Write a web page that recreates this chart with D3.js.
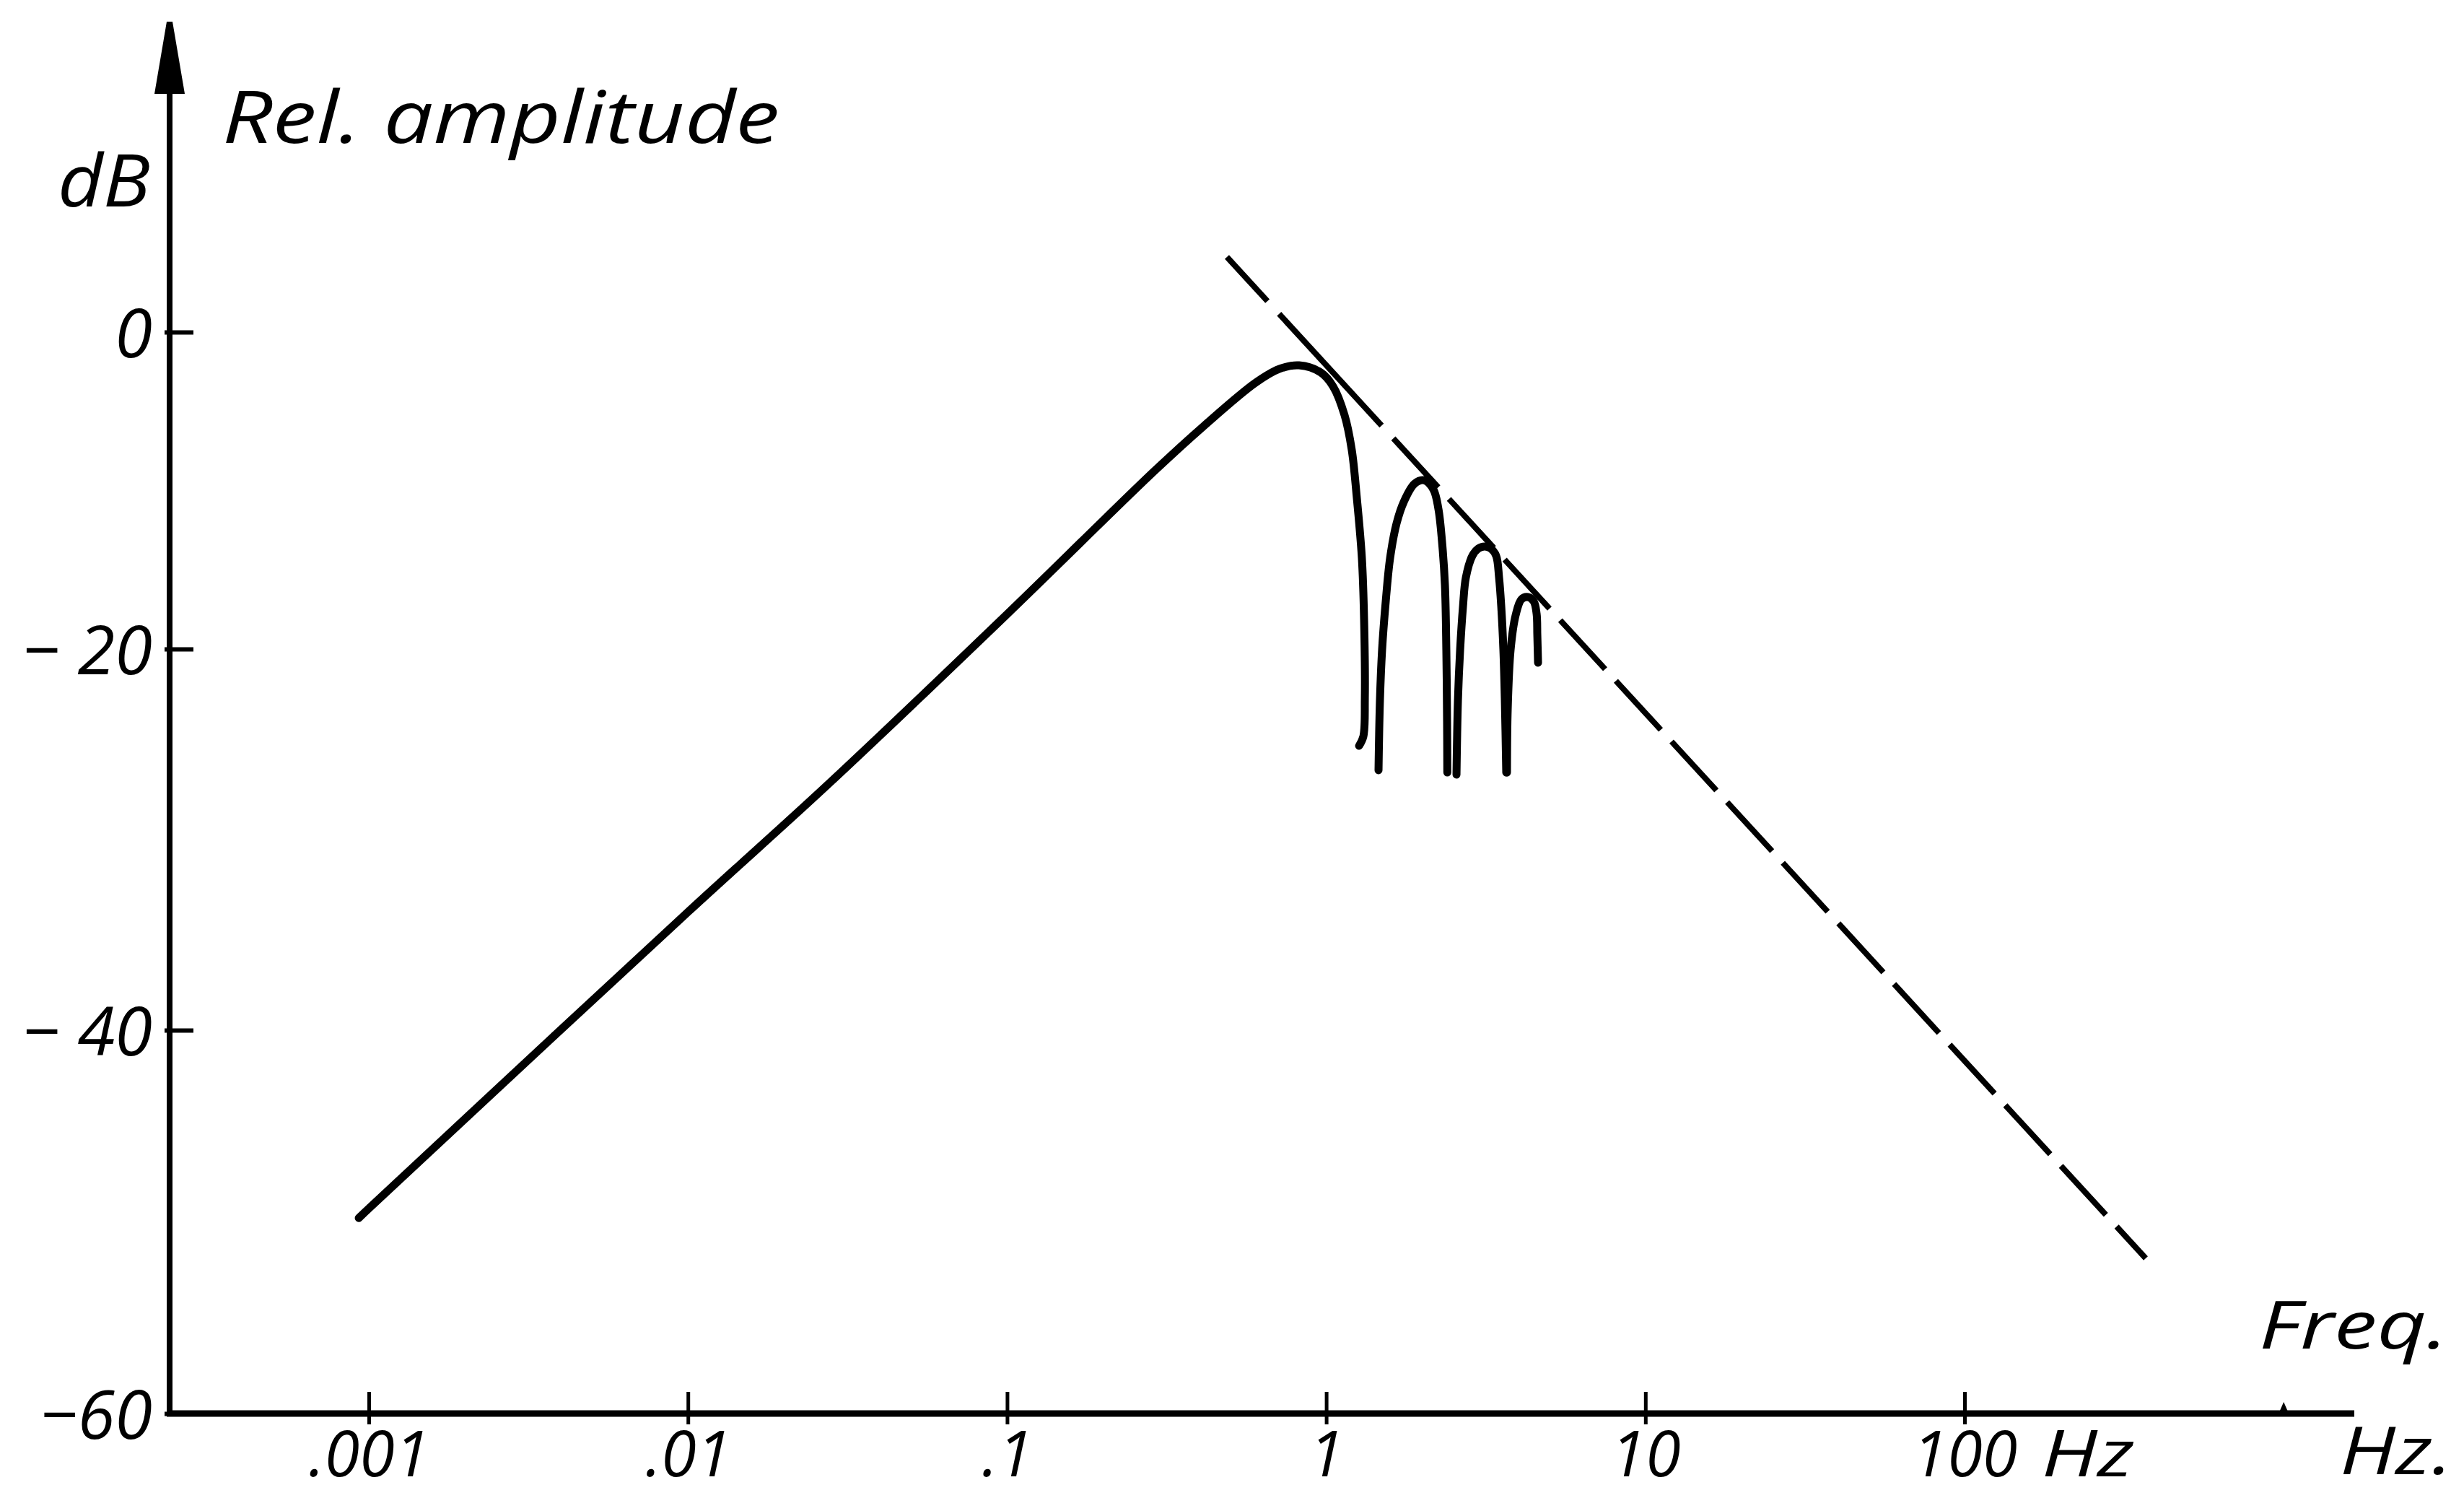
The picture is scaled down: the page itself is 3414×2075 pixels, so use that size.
<!DOCTYPE html>
<html>
<head>
<meta charset="utf-8">
<script src="https://cdn.jsdelivr.net/npm/d3@7"></script>
<style>
  html, body { margin: 0; padding: 0; background: #fff; }
  svg { display: block; }
  text { font-family: "Open Sans", "DejaVu Sans", sans-serif; font-style: italic; fill: #000; }
</style>
</head>
<body>
<svg id="chart" width="3414" height="2075"></svg>
<script>
// Frequency decades marked on the axis (Hz) and their labels
const xTicks = [0.001, 0.01, 0.1, 1, 10, 100];
const xTickLabels = [".001", ".01", ".1", "1", "10", "100"];
const xMinorTicks = [1000];
// Level ticks (dB) and their labels
const yTicks = [0, -20, -40, -60];
const yTickLabels = ["0", "\u2212 20", "\u2212 40", "\u221260"];

// Main response: rising flank, broad maximum just below 1 Hz, fall into the first null
const mainHz = [0.00093, 0.001, 0.01, 0.0279, 0.1, 0.290, 0.411, 0.601, 0.714, 0.822,
                0.961, 1.050, 1.141, 1.202, 1.247, 1.293, 1.314, 1.321, 1.307, 1.267];
const mainDb = [-49.8, -49.3, -33.8, -27.0, -17.8, -8.75, -5.97, -3.19, -2.32, -2.10,
                -2.55, -3.42, -5.24, -7.43, -10.48, -14.26, -18.22, -22.58, -24.58, -25.08];

// Side lobes between successive nulls
const lobe2Hz = [1.458, 1.473, 1.496, 1.536, 1.585, 1.661, 1.750, 1.891, 2.024, 2.166,
                 2.246, 2.305, 2.354, 2.378, 2.391, 2.395];
const lobe2Db = [-26.36, -22.69, -20.04, -16.99, -14.26, -12.07, -10.71, -9.57, -9.35, -9.93,
                 -11.16, -13.21, -15.95, -20.04, -23.83, -26.48];

const lobe3Hz = [2.559, 2.586, 2.627, 2.682, 2.738, 2.869, 2.991, 3.135, 3.285, 3.407,
                 3.479, 3.534, 3.589, 3.626, 3.664];
const lobe3Db = [-26.59, -22.69, -20.04, -17.31, -15.49, -14.12, -13.67, -13.53, -13.67, -14.12,
                 -15.49, -17.31, -20.04, -22.58, -26.48];

const lobe4Hz = [3.684, 3.703, 3.781, 3.922, 4.089, 4.284, 4.467, 4.561, 4.585, 4.609];
const lobe4Db = [-26.48, -23.18, -20.04, -17.86, -16.86, -16.72, -16.99, -17.77, -19.13, -20.72];

// Straight envelope through the lobe maxima
const asymHz = [0.4884, 369.5];
const asymDb = [4.74, -51.9];

// ---------------------------------------------------------------------------
const svg = d3.select("#chart");
const W = 3414, H = 2075;

const axisX = 235;     // position of the level axis
const axisY = 1958;    // position of the frequency axis
const axisTop = 30;    // arrow tip
const axisRight = 3262;

const x = d3.scaleLog().domain([0.001, 100]).range([511, 2722]);
// hand-drawn level scale: the top 20 dB step is shorter than the others
const y = d3.scaleLinear().domain([0, -20, -40, -60]).range([460, 899, 1427, axisY]);

svg.append("rect").attr("width", W).attr("height", H).attr("fill", "#fff");

// axis lines
svg.append("line")
  .attr("x1", axisX).attr("x2", axisX)
  .attr("y1", axisTop + 90).attr("y2", axisY + 4)
  .attr("stroke", "#000").attr("stroke-width", 8);
svg.append("line")
  .attr("x1", axisX - 4).attr("x2", axisRight)
  .attr("y1", axisY).attr("y2", axisY)
  .attr("stroke", "#000").attr("stroke-width", 9);
// arrow head on the level axis
svg.append("path")
  .attr("d", `M${axisX - 4},${axisTop} L${axisX + 4},${axisTop} L${axisX + 21},${axisTop + 100} L${axisX - 21},${axisTop + 100} Z`)
  .attr("fill", "#000");

// frequency axis ticks and labels
const gx = svg.append("g")
  .attr("transform", `translate(0,${axisY})`)
  .call(d3.axisBottom(x).tickValues(xTicks).tickFormat((d, i) => xTickLabels[i]).tickSizeOuter(0));
gx.attr("font-family", null).attr("font-size", null);
gx.select(".domain").remove();
gx.selectAll(".tick line").attr("y1", 15).attr("y2", -30).attr("stroke-width", 5);
gx.selectAll(".tick text").attr("y", 87).attr("dy", null).attr("font-size", 88);

// small unlabelled tick beyond the last decade
svg.selectAll(".minor")
  .data(xMinorTicks)
  .join("path")
  .attr("class", "minor")
  .attr("d", d => {
    const xm = x(d);
    return `M${xm - 7},${axisY} L${xm},${axisY - 16} L${xm + 7},${axisY} Z`;
  })
  .attr("fill", "#000");

// unit after the last decade label
const lastLabel = gx.selectAll(".tick text").filter((d, i) => i === xTicks.length - 1).node();
const bb = lastLabel.getBBox();
const lastTickX = x(xTicks[xTicks.length - 1]);
svg.append("text")
  .attr("x", lastTickX + bb.x + bb.width + 34)
  .attr("y", axisY + 87)
  .attr("font-size", 90)
  .attr("textLength", 128).attr("lengthAdjust", "spacingAndGlyphs")
  .text("Hz");

// level axis ticks and labels
const gy = svg.append("g")
  .attr("transform", `translate(${axisX},0)`)
  .call(d3.axisLeft(y).tickValues(yTicks).tickFormat((d, i) => yTickLabels[i]).tickSizeOuter(0));
gy.attr("font-family", null).attr("font-size", null);
gy.select(".domain").remove();
gy.selectAll(".tick line").attr("x1", -7).attr("x2", 33).attr("stroke-width", 6);
gy.selectAll(".tick text").attr("x", -24).attr("y", 34).attr("dy", null).attr("font-size", 94);

// axis titles
svg.append("text").attr("x", 308).attr("y", 198).attr("font-size", 100)
  .attr("textLength", 772).attr("lengthAdjust", "spacingAndGlyphs").text("Rel. amplitude");
svg.append("text").attr("x", 80).attr("y", 286).attr("font-size", 100)
  .attr("textLength", 128).attr("lengthAdjust", "spacingAndGlyphs").text("dB");
svg.append("text").attr("x", 3130).attr("y", 1868).attr("font-size", 92)
  .attr("textLength", 262).attr("lengthAdjust", "spacingAndGlyphs").text("Freq.");
svg.append("text").attr("x", 3242).attr("y", 2042).attr("font-size", 92)
  .attr("textLength", 156).attr("lengthAdjust", "spacingAndGlyphs").text("Hz.");

// curves
const zip = (hz, db) => hz.map((f, i) => [f, db[i]]);
const line = d3.line()
  .x(d => x(d[0]))
  .y(d => y(d[1]))
  .curve(d3.curveCatmullRom.alpha(0.5));

// dashed envelope
const dashes = ["83", "24", "210", "24"];
for (let k = 0; k < 20; k++) dashes.push("92", "22");
svg.append("path")
  .datum(zip(asymHz, asymDb))
  .attr("d", d3.line().x(d => x(d[0])).y(d => y(d[1])))
  .attr("fill", "none")
  .attr("stroke", "#000")
  .attr("stroke-width", 8)
  .attr("stroke-dasharray", dashes.join(" "));

const series = [zip(mainHz, mainDb), zip(lobe2Hz, lobe2Db), zip(lobe3Hz, lobe3Db), zip(lobe4Hz, lobe4Db)];
svg.selectAll(".resp")
  .data(series)
  .join("path")
  .attr("class", "resp")
  .attr("d", line)
  .attr("fill", "none")
  .attr("stroke", "#000")
  .attr("stroke-width", 11)
  .attr("stroke-linejoin", "round")
  .attr("stroke-linecap", "round");
</script>
</body>
</html>
